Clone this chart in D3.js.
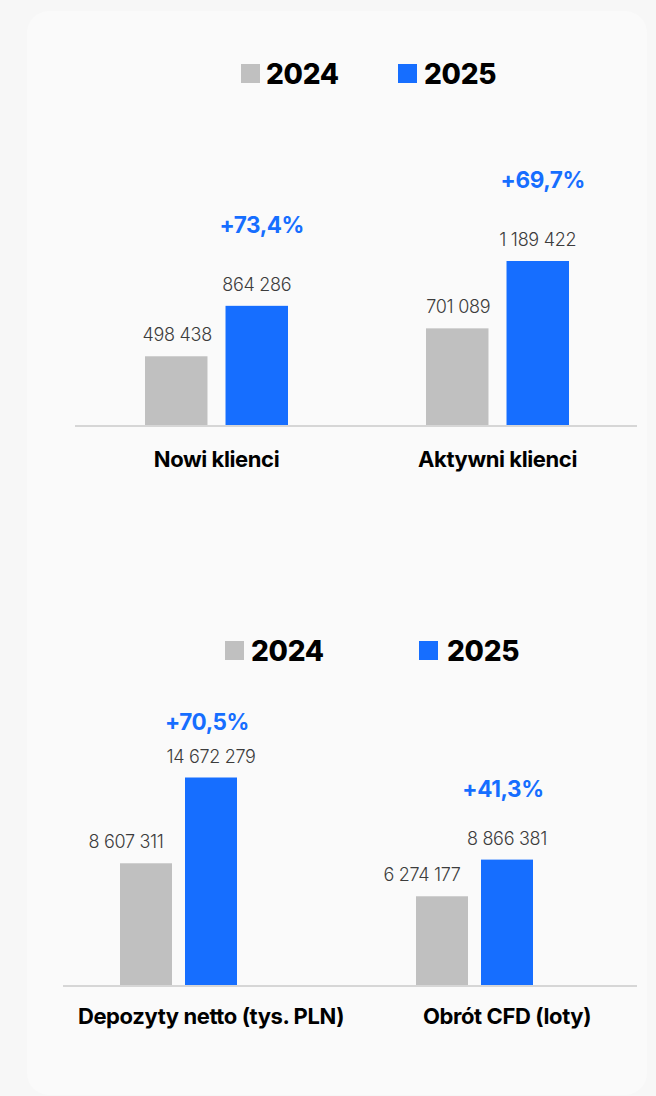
<!DOCTYPE html>
<html>
<head>
<meta charset="utf-8">
<script src="https://cdn.jsdelivr.net/npm/d3@7"></script>
<style>
  body { margin: 0; background: #f7f7f7; }
  svg { display: block; font-family: Inter, "Noto Sans", sans-serif; }
</style>
</head>
<body>
<svg id="chart" width="656" height="1096"></svg>
<script>
// data
const years = ["2024", "2025"];
const topCategories = ["Nowi klienci", "Aktywni klienci"];
const top2024 = [498438, 701089];
const top2025 = [864286, 1189422];
const topGrowth = ["+73,4%", "+69,7%"];
const bottomCategories = ["Depozyty netto (tys. PLN)", "Obrót CFD (loty)"];
const bottom2024 = [8607311, 6274177];
const bottom2025 = [14672279, 8866381];
const bottomGrowth = ["+70,5%", "+41,3%"];

const colors = {"2024": "#c0c0c0", "2025": "#166eff"};
const pl = d3.formatLocale({decimal: ",", thousands: " ", grouping: [3], currency: ["", " zł"]});
const fmt = pl.format(",d");

const svg = d3.select("#chart");

// card
svg.append("rect")
   .attr("x", 27).attr("y", 11)
   .attr("width", 620).attr("height", 1084)
   .attr("rx", 22)
   .attr("fill", "#fafafa");

function drawPanel(cfg) {
  const g = svg.append("g");

  // legend
  const leg = g.append("g").attr("class", "legend");
  years.forEach((y, i) => {
    leg.append("rect")
       .attr("x", cfg.legendX[i]).attr("y", cfg.legendY - 19)
       .attr("width", 19).attr("height", 19)
       .attr("fill", colors[y]);
    leg.append("text")
       .attr("x", cfg.legendTextX[i]).attr("y", cfg.legendY + 1)
       .attr("font-size", "28px").attr("font-weight", 800)
       .attr("letter-spacing", "-0.3")
       .attr("fill", "#000")
       .text(y);
  });

  const x = d3.scaleBand().domain(cfg.categories).range(cfg.xRange);
  const inner = d3.scaleBand().domain(years).range([-cfg.groupHalf, cfg.groupHalf]).paddingInner(cfg.innerPad);
  const yScale = d3.scaleLinear().domain([0, d3.max(cfg.v2025)]).range([cfg.baseY, cfg.topY]);

  const rows = cfg.categories.map((c, i) => ({
    cat: c, growth: cfg.growth[i],
    vals: [{year: "2024", v: cfg.v2024[i]}, {year: "2025", v: cfg.v2025[i]}]
  }));

  // baseline
  g.append("line")
   .attr("x1", cfg.lineX[0]).attr("x2", cfg.lineX[1])
   .attr("y1", cfg.baseY + 1).attr("y2", cfg.baseY + 1)
   .attr("stroke", "#d6d6d6").attr("stroke-width", 2);

  const groups = g.selectAll("g.grp").data(rows).join("g")
    .attr("class", "grp")
    .attr("transform", d => `translate(${x(d.cat) + x.bandwidth() / 2 + cfg.groupDx},0)`);

  groups.selectAll("rect.bar").data(d => d.vals).join("rect")
    .attr("class", "bar")
    .attr("x", d => inner(d.year))
    .attr("width", inner.bandwidth())
    .attr("y", d => yScale(d.v))
    .attr("height", d => yScale(0) - yScale(d.v))
    .attr("fill", d => colors[d.year]);

  groups.selectAll("text.val").data(d => d.vals).join("text")
    .attr("class", "val")
    .attr("x", d => inner(d.year) + inner.bandwidth() / 2 + (d.year === "2024" ? cfg.oldLabelDx : 0))
    .attr("y", d => yScale(d.v) - 15)
    .attr("text-anchor", "middle")
    .attr("font-size", "18px").attr("font-weight", 300)
    .attr("letter-spacing", "-0.3")
    .attr("fill", "#3c3c3c")
    .text(d => fmt(d.v));

  groups.append("text")
    .attr("x", inner("2025") + inner.bandwidth() / 2 + cfg.growthDx)
    .attr("y", (d, i) => yScale(d.vals[1].v) - 15 - cfg.growthGap[i])
    .attr("text-anchor", "middle")
    .attr("font-size", "22.5px").attr("font-weight", 700)
    .attr("letter-spacing", "-0.4")
    .attr("fill", colors["2025"])
    .text(d => d.growth);

  // category labels
  g.selectAll("text.cat").data(rows).join("text")
    .attr("class", "cat")
    .attr("x", d => x(d.cat) + x.bandwidth() / 2)
    .attr("y", cfg.baseY + cfg.catGap)
    .attr("text-anchor", "middle")
    .attr("font-size", "22px").attr("font-weight", 700)
    .attr("letter-spacing", "-0.4")
    .attr("fill", "#000")
    .text(d => d.cat);
}

drawPanel({
  categories: topCategories, v2024: top2024, v2025: top2025, growth: topGrowth,
  legendX: [241, 398], legendTextX: [266, 424], legendY: 83,
  xRange: [76, 638], groupDx: 0, groupHalf: 71.5, innerPad: 0.224,
  baseY: 425, topY: 261, lineX: [75, 637], oldLabelDx: 1,
  growthDx: 5, growthGap: [58, 58], catGap: 42
});

drawPanel({
  categories: bottomCategories, v2024: bottom2024, v2025: bottom2025, growth: bottomGrowth,
  legendX: [225, 419], legendTextX: [251, 447], legendY: 660,
  xRange: [63, 655], groupDx: -32.5, groupHalf: 58.5, innerPad: 0.2,
  baseY: 985, topY: 777.5, lineX: [63, 637], oldLabelDx: -20,
  growthDx: -4, growthGap: [33, 48], catGap: 39
});
</script>
</body>
</html>
